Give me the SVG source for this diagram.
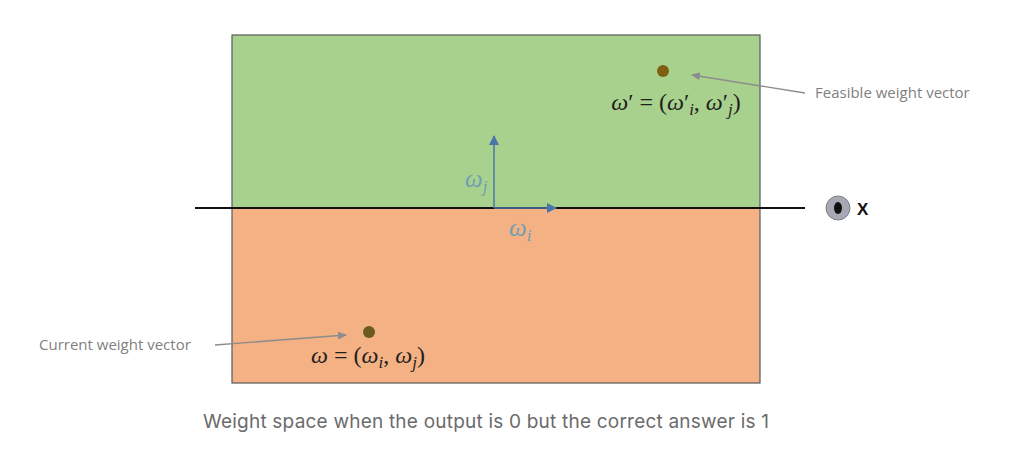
<svg xmlns="http://www.w3.org/2000/svg" width="1021" height="465" viewBox="0 0 1021 465">
<style>
.lbl{font-family:"Open Sans","Liberation Sans",sans-serif;font-size:15px;fill:#7f7f7f}
.math{font-family:"Liberation Serif",serif;font-style:italic;font-size:24px;fill:#1f1f1f}
.up{font-family:"Liberation Serif",serif;font-style:normal}
.ax{font-family:"Liberation Serif",serif;font-style:italic;font-size:25px;fill:#6f9fb3}
.cap{font-family:"Inter","Liberation Sans",sans-serif;font-size:19px;fill:#6b6b6b}
</style>
<defs>
<marker id="ah" markerWidth="10" markerHeight="10" refX="8" refY="5" orient="auto" markerUnits="userSpaceOnUse">
<path d="M0,1 L9,5 L0,9 z" fill="#8c8c8c"/>
</marker>
<marker id="bh" markerWidth="12" markerHeight="12" refX="9" refY="5" orient="auto" markerUnits="userSpaceOnUse">
<path d="M0,0 L10,5 L0,10 z" fill="#4a76a8"/>
</marker>
</defs>
<rect width="1021" height="465" fill="#ffffff"/>
<g id="space">
<rect x="232" y="35" width="528" height="173" fill="#a9d18e"/>
<rect x="232" y="208" width="528" height="175" fill="#f4b183"/>
<rect x="232" y="35" width="528" height="348" fill="none" stroke="#595959" stroke-width="1.2"/>
</g>
<g id="connectors">
<line x1="195" y1="208" x2="805" y2="208" stroke="#111" stroke-width="2"/>
<line x1="494" y1="208" x2="494" y2="136" stroke="#4a76a8" stroke-width="1.5" marker-end="url(#bh)"/>
<line x1="494" y1="208" x2="556" y2="208" stroke="#4a76a8" stroke-width="1.5" marker-end="url(#bh)"/>
<line x1="805" y1="93" x2="692" y2="75" stroke="#8c8c8c" stroke-width="1.3" marker-end="url(#ah)"/>
<line x1="215" y1="345" x2="346" y2="335" stroke="#8c8c8c" stroke-width="1.3" marker-end="url(#ah)"/>
</g>
<g id="feasible">
<circle cx="663" cy="71" r="6" fill="#7f6010"/>
<text class="math" x="676" y="110" text-anchor="middle">ω<tspan class="up">′</tspan><tspan class="up"> = (</tspan>ω<tspan class="up">′</tspan><tspan font-size="17" dy="5">i</tspan><tspan class="up" dy="-5">, </tspan>ω<tspan class="up">′</tspan><tspan font-size="17" dy="5">j</tspan><tspan class="up" dy="-5">)</tspan></text>
<text class="lbl" x="815" y="98">Feasible weight vector</text>
</g>
<g id="current">
<circle cx="369" cy="332" r="6" fill="#6b5a1e"/>
<text class="math" x="368" y="363" text-anchor="middle">ω<tspan class="up"> = (</tspan>ω<tspan font-size="17" dy="5">i</tspan><tspan class="up" dy="-5">, </tspan>ω<tspan font-size="17" dy="5">j</tspan><tspan class="up" dy="-5">)</tspan></text>
<text class="lbl" x="39" y="350">Current weight vector</text>
</g>
<g id="axes-labels">
<text class="ax" x="465" y="187">ω<tspan font-size="17" dy="5">j</tspan></text>
<text class="ax" x="509" y="236">ω<tspan font-size="17" dy="5">i</tspan></text>
</g>
<g id="x-marker">
<circle cx="838" cy="208" r="12" fill="#a6a9b3" stroke="#7d7f88" stroke-width="1"/>
<ellipse cx="838" cy="208" rx="4" ry="6" fill="#111"/>
<text x="857" y="215" font-family="Liberation Sans, sans-serif" font-weight="bold" font-size="17" fill="#111">X</text>
</g>
<text class="cap" x="203" y="428" textLength="566">Weight space when the output is 0 but the correct answer is 1</text>
</svg>
